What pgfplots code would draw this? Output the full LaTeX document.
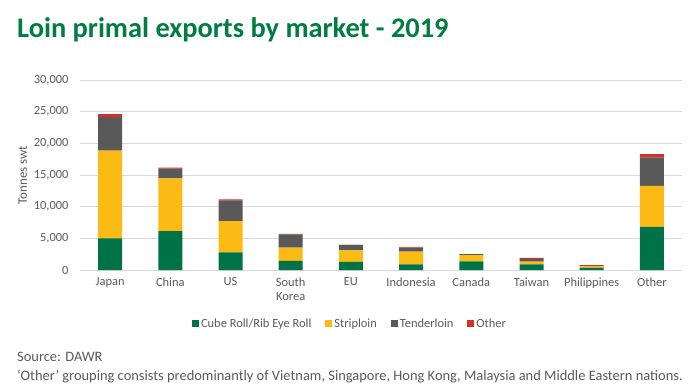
\documentclass[border=0pt]{standalone}
\usepackage{pgfplots}
\pgfplotsset{compat=1.18}
\usepackage{fontspec}
\setmainfont{Carlito}
\definecolor{cgreen}{RGB}{0,114,72}
\definecolor{cyellow}{RGB}{252,186,20}
\definecolor{cgrey}{RGB}{89,89,89}
\definecolor{cred}{RGB}{214,48,40}
\definecolor{ctitle}{RGB}{0,125,64}
\definecolor{ctext}{RGB}{89,89,89}
\definecolor{cgrid}{RGB}{217,217,217}
\begin{document}
\begin{tikzpicture}
\path[use as bounding box] (0,0) rectangle (700bp,-390bp);
\node[anchor=base west, inner sep=0pt, text=ctitle, font=\fontsize{28.5}{30}\selectfont\bfseries] at (17bp,-37bp) {Loin primal exports by market - 2019};
\begin{axis}[
  at={(80bp,-270bp)}, anchor=south west,
  scale only axis, width=602bp, height=190bp,
  ybar stacked, bar width=24bp,
  xmin=-0.5, xmax=9.5, ymin=0, ymax=30000,
  xtick={0,...,9},
  xticklabels={Japan,China,US,{South\\Korea},EU,Indonesia,Canada,Taiwan,Philippines,Other},
  x tick label style={align=center, font=\fontsize{12.5}{14}\selectfont, text=ctext, yshift=-4bp},
  ytick={0,5000,...,30000},
  y tick label style={font=\fontsize{12.5}{14}\selectfont, text=ctext, xshift=-8bp},
  /pgf/number format/assume math mode=true,
  /pgf/number format/1000 sep={,},
  scaled y ticks=false,
  ymajorgrids, grid style={cgrid, line width=0.8pt},
  axis x line*=bottom, axis y line*=left,
  x axis line style={cgrid, line width=0.8pt},
  y axis line style={draw=none},
  major tick length=0pt,
  ylabel={Tonnes swt},
  ylabel style={font=\fontsize{13}{15}\selectfont, text=ctext},
  legend columns=4,
  legend style={at={(0.4485,-0.284)}, anchor=center, draw=none, fill=none,
    font=\fontsize{12.5}{14}\selectfont, text=ctext,
    /tikz/every even column/.append style={column sep=12bp}},
  legend image code/.code={\fill[#1] (0bp,-3.5bp) rectangle (7bp,3.5bp);},
  every axis plot/.append style={draw=none},
]
\addplot[fill=cgreen] coordinates {(0,5000) (1,6150) (2,2800) (3,1450) (4,1300) (5,900) (6,1350) (7,900) (8,320) (9,6800)};
\addplot[fill=cyellow] coordinates {(0,13850) (1,8300) (2,4900) (3,2080) (4,1800) (5,2000) (6,1000) (7,430) (8,260) (9,6500)};
\addplot[fill=cgrey] coordinates {(0,5300) (1,1550) (2,3300) (3,2100) (4,850) (5,650) (6,150) (7,420) (8,80) (9,4500)};
\addplot[fill=cred] coordinates {(0,470) (1,150) (2,150) (3,80) (4,30) (5,100) (6,0) (7,150) (8,100) (9,480)};
\legend{Cube Roll/Rib Eye Roll, Striploin, Tenderloin, Other}
\end{axis}
\node[anchor=base west, inner sep=0pt, text=ctext, font=\fontsize{14.5}{17}\selectfont] at (17bp,-361bp) {Source: DAWR};
\node[anchor=base west, inner sep=0pt, text=ctext, font=\fontsize{14.5}{17}\selectfont] at (17bp,-380bp) {‘Other’ grouping consists predominantly of Vietnam, Singapore, Hong Kong, Malaysia and Middle Eastern nations.};
\end{tikzpicture}
\end{document}
